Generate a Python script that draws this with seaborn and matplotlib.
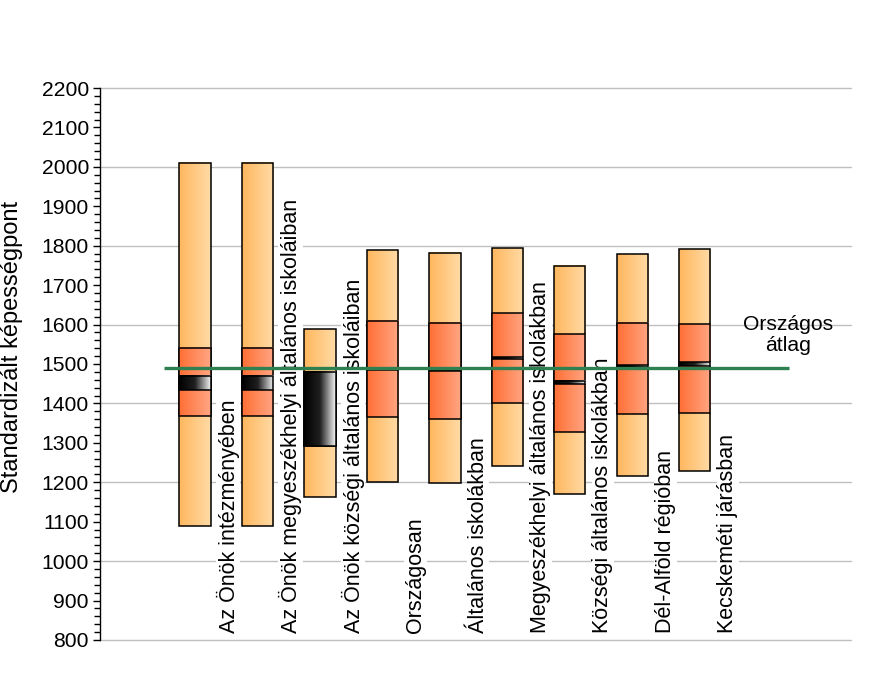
import numpy as np
import seaborn as sns
import matplotlib.pyplot as plt
from matplotlib.colors import LinearSegmentedColormap
from matplotlib.ticker import MultipleLocator

categories = [
    'Az Önök intézményében',
    'Az Önök megyeszékhelyi általános iskoláiban',
    'Az Önök községi általános iskoláiban',
    'Országosan',
    'Általános iskolákban',
    'Megyeszékhelyi általános iskolákban',
    'Községi általános iskolákban',
    'Dél-Alföld régióban',
    'Kecskeméti járásban',
]
p5 = [1089, 1089, 1163, 1200, 1197, 1241, 1170, 1216, 1229]
p25 = [1368, 1368, 1292, 1366, 1360, 1401, 1328, 1373, 1376]
ci_lo = [1434, 1434, 1292, 1486, 1481, 1513, 1449, 1493, 1495]
ci_hi = [1470, 1470, 1480, 1489, 1484, 1517, 1457, 1497, 1505]
p75 = [1541, 1541, 1480, 1610, 1604, 1629, 1576, 1604, 1601]
p95 = [2011, 2011, 1589, 1788, 1781, 1793, 1749, 1778, 1791]
national_avg = 1490
avg_label = 'Országos\nátlag'

sns.set_style('white')
plt.rcParams['font.family'] = ['Liberation Sans', 'DejaVu Sans']
plt.rcParams['text.color'] = 'black'
plt.rcParams['ytick.color'] = 'black'
plt.rcParams['ytick.labelcolor'] = 'black'

light = LinearSegmentedColormap.from_list('light', ['#ffb75e', '#ffdba6'])
dark = LinearSegmentedColormap.from_list('dark', ['#ff6f35', '#ffa683'])
black = LinearSegmentedColormap.from_list('black', ['#000000', '#202020', '#f4f4f4'])
grad = np.linspace(0, 1, 64).reshape(1, -1)


def gradient_bars(ax, x, low, high, cmap, z):
    bars = ax.bar(x, np.array(high) - np.array(low), bottom=low, width=0.5,
                  facecolor='none', edgecolor='black', linewidth=1.1, zorder=z + 1)
    for b in bars:
        x0, y0 = b.get_x(), b.get_y()
        ax.imshow(grad, cmap=cmap, aspect='auto', zorder=z,
                  extent=[x0, x0 + b.get_width(), y0, y0 + b.get_height()])


fig = plt.figure(figsize=(8.82, 6.86), dpi=100)
ax = fig.add_axes([0.1134, 0.0671, 0.8515, 0.8046])

x = np.arange(len(categories))
gradient_bars(ax, x, p5, p95, light, 2)
gradient_bars(ax, x, p25, p75, dark, 4)
gradient_bars(ax, x, ci_lo, ci_hi, black, 6)

for v in range(800, 2201, 200):
    ax.axhline(v, color='#c0c0c0', linewidth=1, zorder=0, clip_on=False)

ax.hlines(national_avg, -0.5, 9.5, color='#2e8050', linewidth=2.4, zorder=10)
ax.text(9.49, 1573, avg_label, ha='center', va='center', fontsize=15.2,
        linespacing=1.1, zorder=11)

for i, lab in enumerate(categories):
    ax.text(i + 0.53, 818, lab, rotation=90, ha='center', va='bottom',
            fontsize=15.5, zorder=9,
            bbox=dict(facecolor='white', edgecolor='none', pad=0.5))

ax.set_xlim(-1.52, 10.5)
ax.set_ylim(800, 2200)
ax.set_xticks([])
ax.yaxis.set_major_locator(MultipleLocator(100))
ax.yaxis.set_minor_locator(MultipleLocator(20))
ax.tick_params(axis='y', which='major', direction='out', length=5, width=1,
               labelsize=15.2, left=True, pad=3)
ax.tick_params(axis='y', which='minor', direction='out', length=4, width=1, left=True)
for s in ['top', 'right', 'bottom']:
    ax.spines[s].set_visible(False)
ax.spines['left'].set_color('black')
ax.spines['left'].set_linewidth(1)

fig.text(12 / 882, 0.494, 'Standardizált képességpont', rotation=90,
         ha='center', va='center', fontsize=17)

fig.savefig('out.png', dpi=100)
